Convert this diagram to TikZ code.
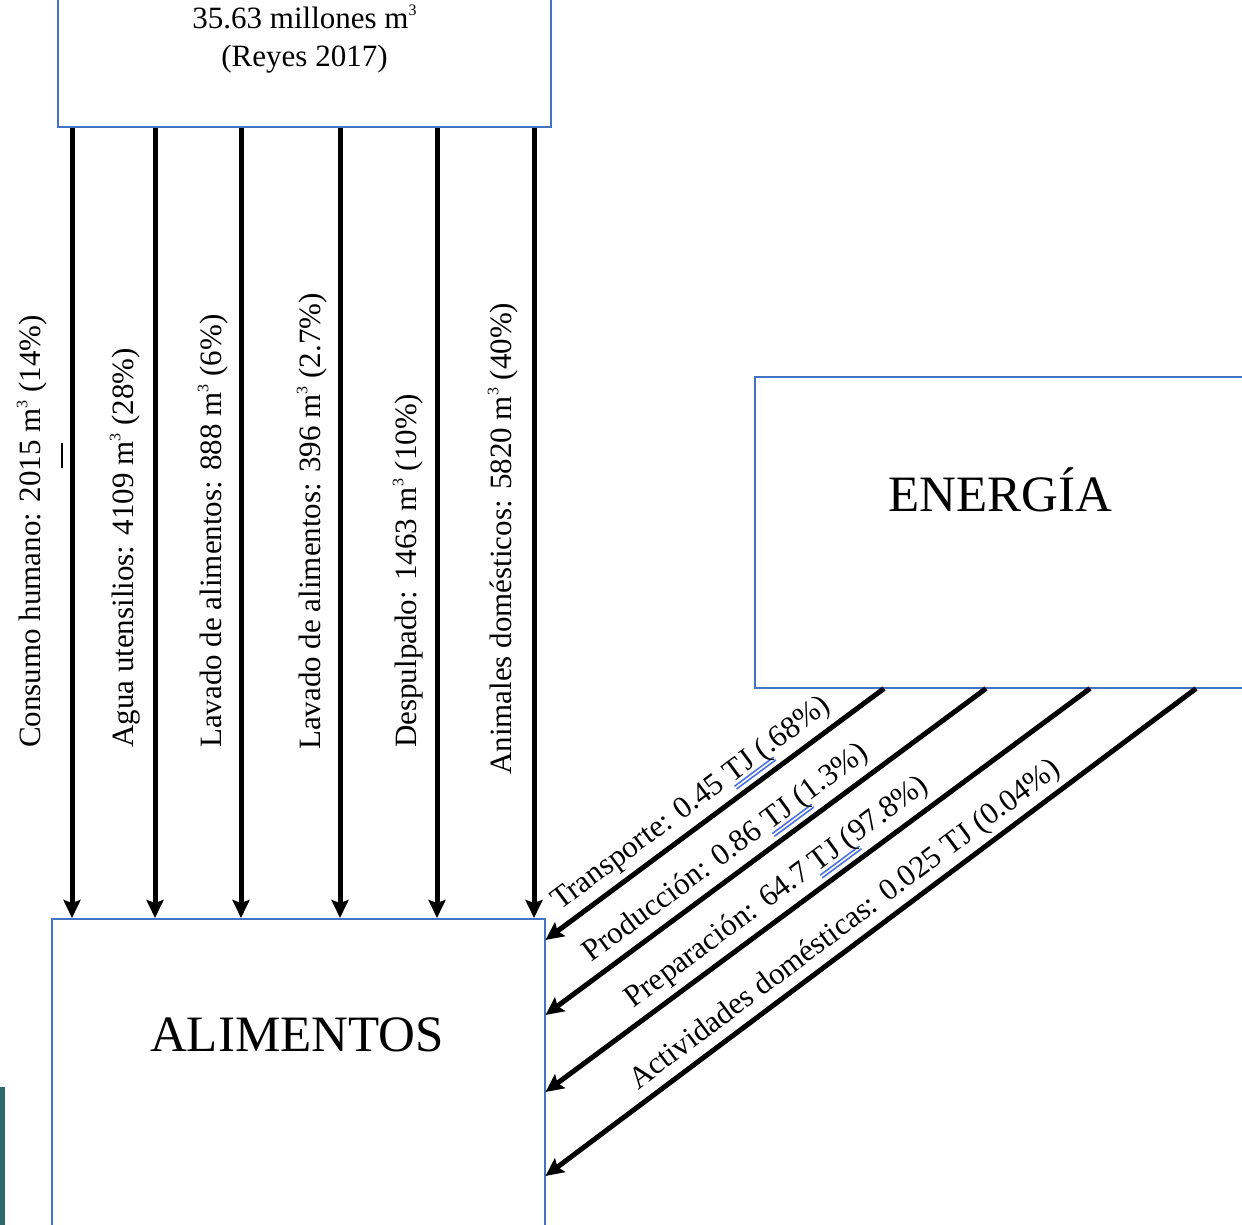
\documentclass[tikz,border=0pt]{standalone}
\usepackage{fontspec}
\setmainfont{Liberation Serif}
\usetikzlibrary{positioning,arrows.meta}

\definecolor{cajaazul}{HTML}{4472C4}
\definecolor{marcaazul}{HTML}{4A6FE0}
\definecolor{barra}{HTML}{2F6868}

% doble subrayado azul (marca de gramatica)
\newsavebox{\cajatj}
\newcommand{\marcagram}[1]{\sbox{\cajatj}{#1}\rlap{\color{marcaazul}\rule[-0.15em]{\wd\cajatj}{0.05em}}\rlap{\color{marcaazul}\rule[-0.26em]{\wd\cajatj}{0.05em}}\usebox{\cajatj}}
\newcommand{\cubo}{\raisebox{0.42em}{\fontsize{16}{16}\selectfont 3}}

\begin{document}
\begin{tikzpicture}[x=1pt, y=-1pt, caja/.style={draw=cajaazul, line width=1.5pt, rectangle, inner sep=0pt}, f/.style={line width=5pt, -{Stealth[length=18pt,width=17pt,inset=3pt]}}, etq/.style={font=\fontsize{31}{38}\selectfont, inner sep=0pt}, tit/.style={font=\fontsize{51}{60}\selectfont, inner sep=0pt}]
		\useasboundingbox (0,0) rectangle (1242,1225);
		\clip (0,0) rectangle (1242,1225);

		\node[caja, minimum width=493pt, minimum height=176pt, align=center, etq] (agua) at (304.5,39) {35.63 millones m\cubo\\(Reyes 2017)};
		\node[caja, minimum width=493pt, minimum height=400pt, anchor=north west] (alim) at (51,918) {};
		\node[tit] (alim_label) at (297,1035) {ALIMENTOS};
		\node[caja, minimum width=496pt, minimum height=311pt, anchor=north west] (ener) at (754,376) {};
		\node[tit] (ener_label) at (1000,490) {ENERGÍA};

		\coordinate (x1) at (72,0);
		\coordinate (x2) at (155,0);
		\coordinate (x3) at (241,0);
		\coordinate (x4) at (340,0);
		\coordinate (x5) at (437,0);
		\coordinate (x6) at (534,0);

		\draw[f] (agua.south -| x1) -- (alim.north -| x1);
		\draw[f] (agua.south -| x2) -- (alim.north -| x2);
		\draw[f] (agua.south -| x3) -- (alim.north -| x3);
		\draw[f] (agua.south -| x4) -- (alim.north -| x4);
		\draw[f] (agua.south -| x5) -- (alim.north -| x5);
		\draw[f] (agua.south -| x6) -- (alim.north -| x6);

		\node[etq, rotate=90, anchor=west] (c1) at (32,748) {Consumo humano: 2015 m\cubo{} (14\%)};
		\node[etq, rotate=90, anchor=west] (c2) at (125,748) {Agua utensilios: 4109 m\cubo{} (28\%)};
		\node[etq, rotate=90, anchor=west] (c3) at (213,748) {Lavado de alimentos: 888 m\cubo{} (6\%)};
		\node[etq, rotate=90, anchor=west] (c4) at (312,750) {Lavado de alimentos: 396 m\cubo{} (2.7\%)};
		\node[etq, rotate=90, anchor=west] (c5) at (408,748) {Despulpado: 1463 m\cubo{} (10\%)};
		\node[etq, rotate=90, anchor=west] (c6) at (503,775) {Animales domésticos: 5820 m\cubo{} (40\%)};
		\draw[line width=1.5pt] (62,443) -- (62,468);

		\coordinate (e1) at (884,0);
		\coordinate (e2) at (986,0);
		\coordinate (e3) at (1090,0);
		\coordinate (e4) at (1196,0);
		\coordinate (y1) at (0,940);
		\coordinate (y2) at (0,1015);
		\coordinate (y3) at (0,1092);
		\coordinate (y4) at (0,1176);

		\draw[f] (ener.south -| e1) -- node[etq, sloped, above=4pt, pos=0.53] {Transporte: 0.45 \marcagram{TJ (}.68\%)} (alim.east |- y1);
		\draw[f] (ener.south -| e2) -- node[etq, sloped, above=4pt, pos=0.56] {Producción: 0.86 \marcagram{TJ (}1.3\%)} (alim.east |- y2);
		\draw[f] (ener.south -| e3) -- node[etq, sloped, above=4pt, pos=0.55] {Preparación: 64.7 \marcagram{TJ (}97.8\%)} (alim.east |- y3);
		\draw[f] (ener.south -| e4) -- node[etq, sloped, above=4pt, pos=0.52] {Actividades domésticas: 0.025 TJ (0.04\%)} (alim.east |- y4);

		\fill[barra] (0,1087) rectangle (5,1230);
	\end{tikzpicture}
\end{document}
